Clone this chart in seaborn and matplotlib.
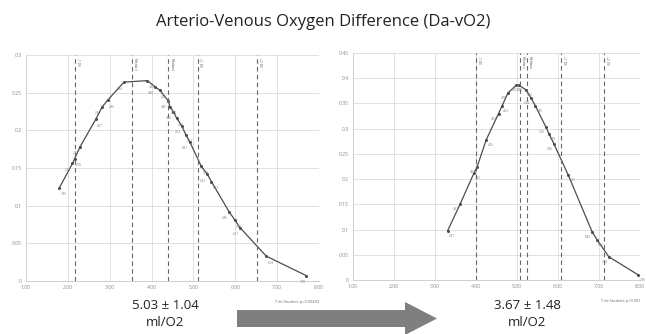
import numpy as np
import pandas as pd
import matplotlib
matplotlib.use("Agg")
import matplotlib.pyplot as plt
import seaborn as sns
from matplotlib.patches import Polygon

# ---- data ----
left_x = [1.80, 2.11, 2.16, 2.29, 2.67, 2.82, 2.95, 3.34, 3.90, 4.08, 4.20, 4.40, 4.44,
          4.52, 4.60, 4.72, 4.82, 4.91, 5.19, 5.33, 5.43, 5.85, 5.99, 6.11, 6.74, 7.70]
left_y = [0.124, 0.156, 0.162, 0.178, 0.215, 0.231, 0.240, 0.264, 0.266, 0.258, 0.253, 0.239, 0.231,
          0.225, 0.216, 0.206, 0.194, 0.185, 0.152, 0.142, 0.132, 0.092, 0.081, 0.071, 0.033, 0.007]
left_lines = [2.17, 3.54, 4.40, 5.10, 6.53]
left_line_labels = ["-1 DE", "Media x̄", "Mediana", "+1 DE", "+2 DE"]

right_x = [3.31, 3.61, 3.95, 4.03, 4.25, 4.55, 4.63, 4.78, 4.98, 5.05, 5.22, 5.34, 5.45,
           5.70, 5.78, 5.90, 6.25, 6.83, 6.95, 7.24, 7.96]
right_y = [0.098, 0.150, 0.212, 0.225, 0.278, 0.330, 0.344, 0.371, 0.386, 0.386, 0.377, 0.361, 0.345,
           0.304, 0.290, 0.270, 0.208, 0.096, 0.080, 0.046, 0.010]
right_lines = [4.01, 5.08, 5.25, 6.08, 7.12]
right_line_labels = ["-1 DE", "Media x̄", "Mediana", "+1 DE", "+2 DE"]

x_ticks = [1, 2, 3, 4, 5, 6, 7, 8]
left_yticks = [0, 0.05, 0.1, 0.15, 0.2, 0.25, 0.3]
right_yticks = [0, 0.05, 0.1, 0.15, 0.2, 0.25, 0.3, 0.35, 0.4, 0.45]

title = "Arterio-Venous Oxygen Difference (Da-vO2)"
left_stat = "5.03 ± 1.04\nml/O2"
right_stat = "3.67 ± 1.48\nml/O2"
left_p = "T de Student: p=0.00403"
right_p = "T de Student: p<0.001"

sns.set_theme(style="white")
plt.rcParams['font.family'] = ['Open Sans', 'DejaVu Sans']

fig = plt.figure(figsize=(6.46, 3.34), dpi=100)
fig.patch.set_facecolor("white")

def draw(ax, xs, ys, lines, labels, yticks, ymax, ptext):
    df = pd.DataFrame({"x": xs, "y": ys})
    sns.lineplot(data=df, x="x", y="y", ax=ax, color="#4d4d4d", lw=0.9,
                 marker="o", markersize=2.2, markeredgewidth=0, sort=False)
    for i, (xv, yv) in enumerate(zip(xs, ys)):
        if i % 2 == 0:
            ax.text(xv + 0.03, yv - 0.006, f"{xv:.2f}", fontsize=2.2, color="#777777",
                    ha="left", va="top")
        else:
            ax.text(xv - 0.03, yv - 0.006, f"{xv:.2f}", fontsize=2.2, color="#777777",
                    ha="right", va="top")
    for lx, lab in zip(lines, labels):
        ax.axvline(lx, color="#666666", lw=0.8, ls=(0, (4, 3)))
        ax.text(lx + 0.02, ymax * 0.985, lab, rotation=270, fontsize=2.3,
                color="#555555", ha="left", va="top")
    ax.set_xlim(1, 8)
    ax.set_ylim(0, ymax)
    ax.set_xticks(x_ticks)
    ax.set_xticklabels([f"{t:.2f}" for t in x_ticks])
    ax.set_yticks(yticks)
    ax.set_yticklabels([("0" if t == 0 else f"{t:g}") for t in yticks])
    ax.tick_params(labelsize=3.6, colors="#888888", length=0, pad=3)
    ax.grid(True, color="#dcdcdc", lw=0.6)
    for s in ["top", "right"]:
        ax.spines[s].set_visible(False)
    for s in ["left", "bottom"]:
        ax.spines[s].set_color("#cfcfcf")
        ax.spines[s].set_linewidth(0.7)
    ax.set_xlabel("")
    ax.set_ylabel("")
    ax.text(1.0, -0.085, ptext, transform=ax.transAxes, fontsize=2.8,
            color="#666666", ha="right", va="top")

ax1 = fig.add_axes([26/646, 1 - 281/334, (319 - 26)/646, (281 - 55)/334])
draw(ax1, left_x, left_y, left_lines, left_line_labels, left_yticks, 0.3, left_p)

ax2 = fig.add_axes([353/646, 1 - 280/334, (640 - 353)/646, (280 - 53)/334])
draw(ax2, right_x, right_y, right_lines, right_line_labels, right_yticks, 0.45, right_p)

fig.text(0.5, 1 - 22/334, title, ha="center", va="center", fontsize=12, color="#222222")
fig.text(165/646, 1 - 314/334, left_stat, ha="center", va="center", fontsize=9.5,
         color="#222222", linespacing=1.45)
fig.text(527/646, 1 - 314/334, right_stat, ha="center", va="center", fontsize=9.5,
         color="#222222", linespacing=1.45)

# big arrow (decoration)
axo = fig.add_axes([0, 0, 1, 1], facecolor="none")
axo.set_xlim(0, 646)
axo.set_ylim(334, 0)
axo.axis("off")
arrow = Polygon([(237, 310), (405, 310), (405, 302), (437, 318.5), (405, 335),
                 (405, 327), (237, 327)], closed=True, facecolor="#7f7f7f", edgecolor="none")
axo.add_patch(arrow)

fig.savefig("out.png", dpi=100, facecolor="white")
